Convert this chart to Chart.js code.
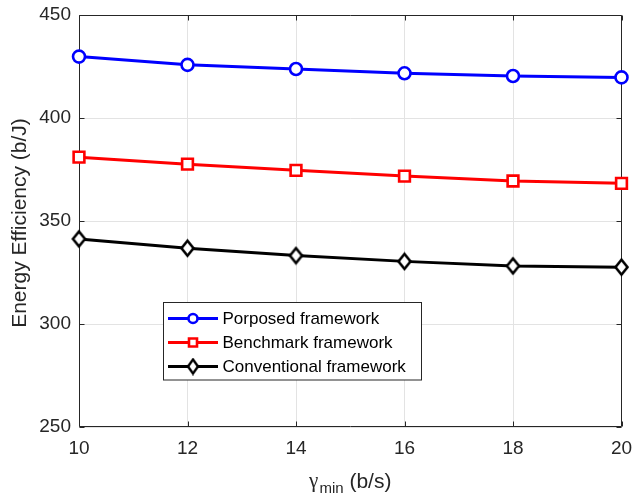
<!DOCTYPE html>
<html>
<head>
<meta charset="utf-8">
<script src="https://cdn.jsdelivr.net/npm/chart.js@4.4.1/dist/chart.umd.min.js"></script>
<style>
  html, body { margin: 0; padding: 0; background: #ffffff; }
  #wrap { width: 633px; height: 496px; position: relative; }
</style>
</head>
<body>
<div id="wrap"><canvas id="c" width="633" height="496"></canvas></div>
<script>
// ---- data ----
const xValues = [10, 12, 14, 16, 18, 20];
const proposedEE = [429.8, 425.8, 423.8, 421.7, 420.4, 419.7];
const benchmarkEE = [381.0, 377.6, 374.6, 371.8, 369.4, 368.3];
const conventionalEE = [341.3, 336.8, 333.2, 330.4, 328.2, 327.6];
const seriesLabels = ['Porposed framework', 'Benchmark framework', 'Conventional framework'];
const xTicks = [10, 12, 14, 16, 18, 20];
const yTicks = [250, 300, 350, 400, 450];
const yTitle = 'Energy Efficiency (b/J)';
const xTitleSymbol = 'γ';
const xTitleSub = 'min';
const xTitleRest = ' (b/s)';

const FONT = '"Liberation Sans", Arial, Helvetica, sans-serif';
const AXIS_COLOR = '#262626';

function makeDiamond(w, h, lw, color) {
  const c = document.createElement('canvas');
  c.width = w + lw * 2; c.height = h + lw * 2;
  const g = c.getContext('2d');
  const cx = c.width / 2, cy = c.height / 2;
  g.beginPath();
  g.moveTo(cx, cy - h / 2); g.lineTo(cx + w / 2, cy); g.lineTo(cx, cy + h / 2); g.lineTo(cx - w / 2, cy); g.closePath();
  g.fillStyle = '#ffffff'; g.fill();
  g.lineWidth = lw; g.strokeStyle = color; g.stroke();
  return c;
}
const diamondImg = makeDiamond(12, 15, 2.6, '#000000');
const diamondLegend = makeDiamond(10, 14, 2.4, '#000000');

function pts(ys) { return xValues.map((x, i) => ({ x: x, y: ys[i] })); }

function zeroPad(s) { s.paddingLeft = 0; s.paddingRight = 0; s.paddingTop = 0; s.paddingBottom = 0; }

const boxPlugin = {
  id: 'boxPlugin',
  beforeDatasetsDraw(chart) {
    const { ctx, chartArea: a, scales } = chart;
    ctx.save();
    ctx.strokeStyle = AXIS_COLOR;
    ctx.lineWidth = 1;
    const L = Math.round(a.left) + 0.5, R = Math.round(a.right) - 0.5;
    const T = Math.round(a.top) + 0.5, B = Math.round(a.bottom) - 0.5;
    ctx.beginPath();
    ctx.rect(L, T, R - L, B - T);
    ctx.stroke();
    const tl = 5;
    ctx.beginPath();
    xTicks.forEach(v => {
      const px = Math.round(scales.x.getPixelForValue(v)) + 0.5;
      ctx.moveTo(px, B); ctx.lineTo(px, B - tl);
      ctx.moveTo(px, T); ctx.lineTo(px, T + tl);
    });
    yTicks.forEach(v => {
      const py = Math.round(scales.y.getPixelForValue(v)) + 0.5;
      ctx.moveTo(L, py); ctx.lineTo(L + tl, py);
      ctx.moveTo(R, py); ctx.lineTo(R - tl, py);
    });
    ctx.stroke();
    ctx.restore();
  },
  afterDraw(chart) {
    const { ctx, chartArea: a } = chart;
    ctx.save();
    // y title
    ctx.fillStyle = AXIS_COLOR;
    ctx.font = '21px ' + FONT;
    ctx.textAlign = 'center';
    ctx.textBaseline = 'middle';
    ctx.translate(20, (a.top + a.bottom) / 2 + 2);
    ctx.rotate(-Math.PI / 2);
    ctx.fillText(yTitle, 0, 0);
    ctx.restore();

    // x title with subscript
    ctx.save();
    ctx.fillStyle = AXIS_COLOR;
    ctx.textBaseline = 'alphabetic';
    ctx.textAlign = 'left';
    const fSym = '21px "Liberation Serif", "DejaVu Serif", serif';
    const fSub = '15px ' + FONT;
    const fMain = '21px ' + FONT;
    ctx.font = fSym; const wSym = ctx.measureText(xTitleSymbol).width;
    ctx.font = fSub; const wSub = ctx.measureText(xTitleSub).width;
    ctx.font = fMain; const wRest = ctx.measureText(xTitleRest).width;
    const total = wSym + 1 + wSub + wRest;
    let x = (a.left + a.right) / 2 - total / 2;
    const base = 488;
    ctx.font = fSym; ctx.fillText(xTitleSymbol, x, base - 1); x += wSym + 1;
    ctx.font = fSub; ctx.fillText(xTitleSub, x, base + 5); x += wSub;
    ctx.font = fMain; ctx.fillText(xTitleRest, x, base);
    ctx.restore();

    // legend
    const ds = chart.data.datasets;
    ctx.save();
    const bx = 163.5, by = 302.5, bw = 258, bh = 77.5;
    ctx.fillStyle = '#ffffff';
    ctx.fillRect(bx, by, bw, bh);
    ctx.strokeStyle = AXIS_COLOR;
    ctx.lineWidth = 1;
    ctx.strokeRect(bx, by, bw, bh);
    const rows = [318.5, 342.5, 366.5];
    ds.forEach((d, i) => {
      const y = rows[i];
      ctx.strokeStyle = d.borderColor;
      ctx.lineWidth = 2.8;
      ctx.beginPath(); ctx.moveTo(168, y); ctx.lineTo(218, y); ctx.stroke();
      const mx = 193;
      ctx.fillStyle = '#ffffff';
      ctx.lineWidth = 2.6;
      if (d.pointStyle === 'circle') {
        ctx.beginPath(); ctx.arc(mx, y, 4.5, 0, Math.PI * 2); ctx.fill(); ctx.stroke();
      } else if (d.pointStyle === 'rect') {
        ctx.beginPath(); ctx.rect(mx - 4, y - 4, 8, 8); ctx.fill(); ctx.stroke();
      } else {
        ctx.drawImage(diamondLegend, mx - diamondLegend.width / 2, y - diamondLegend.height / 2);
      }
      ctx.fillStyle = '#000000';
      ctx.font = '17px ' + FONT;
      ctx.textAlign = 'left';
      ctx.textBaseline = 'middle';
      ctx.fillText(d.label, 222.5, y + 1);
    });
    ctx.restore();
  }
};

new Chart(document.getElementById('c'), {
  type: 'line',
  data: {
    datasets: [
      { label: seriesLabels[0], data: pts(proposedEE), borderColor: '#0000ff', backgroundColor: '#ffffff',
        borderWidth: 3, pointStyle: 'circle', pointRadius: 6, pointBorderWidth: 2.6, pointBackgroundColor: '#ffffff', pointBorderColor: '#0000ff', clip: false },
      { label: seriesLabels[1], data: pts(benchmarkEE), borderColor: '#ff0000', backgroundColor: '#ffffff',
        borderWidth: 3, pointStyle: 'rect', pointRadius: 7.6, pointBorderWidth: 2.6, pointBackgroundColor: '#ffffff', pointBorderColor: '#ff0000', clip: false },
      { label: seriesLabels[2], data: pts(conventionalEE), borderColor: '#000000', backgroundColor: '#ffffff',
        borderWidth: 3, pointStyle: diamondImg, pointRadius: 7, pointBorderWidth: 2.6, pointBackgroundColor: '#ffffff', pointBorderColor: '#000000', clip: false }
    ]
  },
  options: {
    responsive: false,
    animation: false,
    events: [],
    layout: { padding: { left: 0, right: 11.5, top: 15, bottom: 0 } },
    plugins: { legend: { display: false }, tooltip: { enabled: false }, title: { display: false } },
    elements: { line: { tension: 0 } },
    scales: {
      x: {
        type: 'linear', min: 10, max: 20,
        afterBuildTicks(s) { s.ticks = xTicks.map(v => ({ value: v })); },
        afterFit(s) { s.height = 69; zeroPad(s); },
        grid: { color: '#e3e3e3', lineWidth: 1, drawTicks: false },
        border: { display: false },
        ticks: { color: AXIS_COLOR, font: { family: FONT, size: 19 }, padding: 10, maxRotation: 0, autoSkip: false }
      },
      y: {
        type: 'linear', min: 250, max: 450,
        afterBuildTicks(s) { s.ticks = yTicks.map(v => ({ value: v })); },
        afterFit(s) { s.width = 79; zeroPad(s); },
        grid: { color: '#e3e3e3', lineWidth: 1, drawTicks: false },
        border: { display: false },
        ticks: { color: AXIS_COLOR, font: { family: FONT, size: 19 }, padding: 8 }
      }
    }
  },
  plugins: [boxPlugin]
});
</script>
</body>
</html>
